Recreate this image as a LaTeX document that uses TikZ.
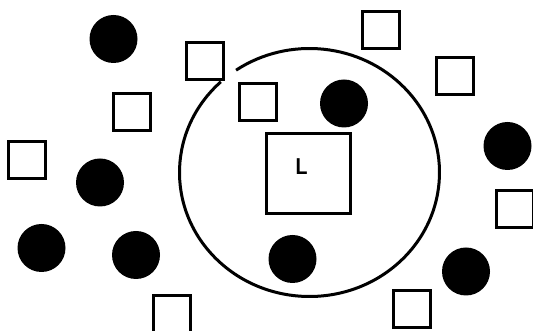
\documentclass[tikz,border=0pt]{standalone}
\usepackage{fontspec}
\setmainfont{Liberation Sans}
\begin{document}
\begin{tikzpicture}[x=1pt,y=1pt,
  dot/.style={circle,fill=black,minimum size=48pt,inner sep=0pt},
  sq/.style={rectangle,draw=black,line width=3pt,minimum size=37pt,inner sep=0pt},
  lbox/.style={rectangle,draw=black,line width=3pt,minimum width=84pt,minimum height=80pt,inner sep=0pt},
  ring/.style={draw=black,line width=3pt}]
\useasboundingbox (0,0) rectangle (533,331);
\clip (0,0) rectangle (533,331);
% filled circles
\node[dot] (c1) at (113.5,292) {};
\node[dot] (c2) at (344,227.5) {};
\node[dot] (c3) at (507.5,185) {};
\node[dot] (c4) at (100,148.5) {};
\node[dot] (c5) at (41.5,83) {};
\node[dot] (c6) at (136,76) {};
\node[dot] (c7) at (292.5,72) {};
\node[dot] (c8) at (466,59.5) {};
% squares
\node[sq] (s1) at (205,270) {};
\node[sq] (s2) at (131.5,218.5) {};
\node[sq] (s3) at (27.3,171) {};
\node[sq] (s4) at (381,301) {};
\node[sq] (s5) at (454.5,255) {};
\node[sq] (s6) at (257.5,229) {};
\node[sq] (s7) at (514.5,122) {};
\node[sq] (s8) at (172,17) {};
\node[sq] (s9) at (412,21.5) {};
% big ring with a gap
\coordinate (ctr) at (309.5,158.5);
\draw[ring] (ctr) ++(133:130 and 124) arc[start angle=133, end angle=484.4, x radius=130, y radius=124];
% L box
\node[lbox] (L) at (308.5,157.5) {};
\node[font=\bfseries\fontsize{23}{23}\selectfont, xscale=0.85, inner sep=0pt] (Ltext) at (301.5,164.5) {L};
\end{tikzpicture}
\end{document}
